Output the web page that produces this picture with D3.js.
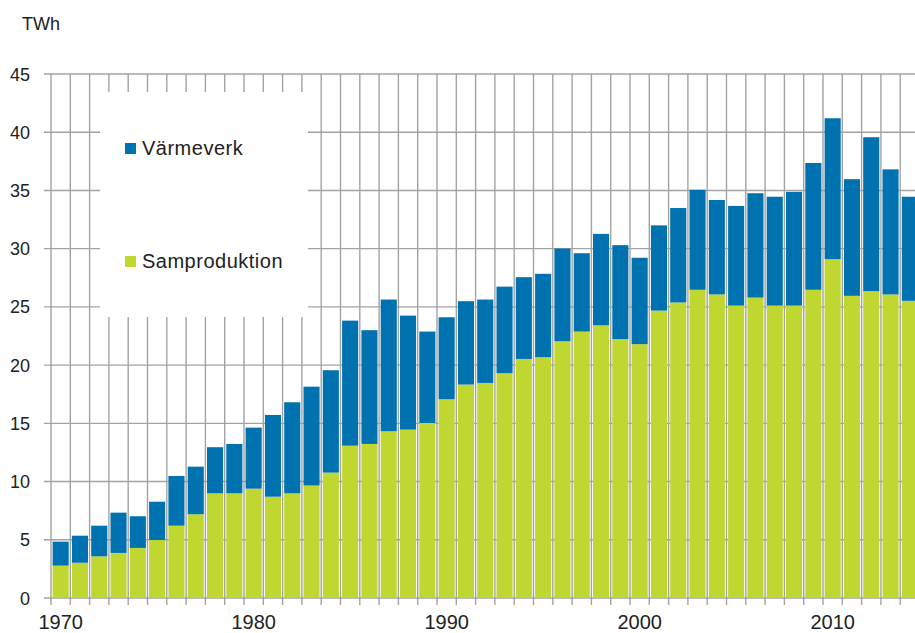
<!DOCTYPE html>
<html>
<head>
<meta charset="utf-8">
<script src="https://cdn.jsdelivr.net/npm/d3@7"></script>
<style>
  body { margin: 0; background: #fff; }
  svg { display: block; font-family: "Liberation Sans", Arial, sans-serif; }
</style>
</head>
<body>
<svg id="chart" width="915" height="633"></svg>
<script>
var years = d3.range(1970, 2015)

// TWh
var samproduktion = [2.78, 3.03, 3.58, 3.87, 4.30, 4.98, 6.21, 7.19, 8.99, 8.99,
    9.39, 8.70, 8.99, 9.66, 10.77, 13.08, 13.23, 14.32, 14.46, 15.03,
    17.07, 18.33, 18.47, 19.30, 20.53, 20.68, 22.05, 22.88, 23.42, 22.23,
    21.80, 24.68, 25.38, 26.47, 26.07, 25.11, 25.80, 25.11, 25.11, 26.47,
    29.10, 25.95, 26.35, 26.07, 25.52]

var varmeverk = [2.06, 2.32, 2.63, 3.46, 2.72, 3.29, 4.27, 4.09, 3.96, 4.24,
    5.24, 7.02, 7.82, 8.49, 8.79, 10.74, 9.77, 11.31, 9.79, 7.85,
    7.04, 7.16, 7.16, 7.44, 7.02, 7.16, 7.96, 6.73, 7.85, 8.07,
    7.42, 7.32, 8.11, 8.59, 8.11, 8.56, 8.96, 9.35, 9.77, 10.89,
    12.10, 10.02, 13.22, 10.74, 8.94]

var seriesNames = ["Samproduktion", "Värmeverk"]
var seriesColors = ["#c0d731", "#0072b0"]
var yTicks = [0, 5, 10, 15, 20, 25, 30, 35, 40, 45]
var labelledYears = [1970, 1980, 1990, 2000, 2010]

var plotLeft = 51, plotTop = 74, plotBottom = 598, step = 19.3
var gridColor = "#a3a3a3"

var svg = d3.select("#chart")

var x = d3.scaleBand()
    .domain(years)
    .range([plotLeft, plotLeft + years.length * step])
    .padding(0)

var y = d3.scaleLinear().domain([0, 45]).range([plotBottom, plotTop])

var rows = years.map(function (yr, i) {
    return { year: yr, Samproduktion: samproduktion[i], "Värmeverk": varmeverk[i] }
})
var stacked = d3.stack().keys(seriesNames)(rows)

// grid
var grid = svg.append("g")
grid.selectAll("line.h").data(yTicks).join("line")
    .attr("x1", plotLeft - 7).attr("x2", 915)
    .attr("y1", function (d) { return y(d) }).attr("y2", function (d) { return y(d) })
    .attr("stroke", gridColor).attr("stroke-width", 1.4)

var boundaries = years.map(function (yr) { return x(yr) }).concat([x.range()[1]])
grid.selectAll("line.v").data(boundaries).join("line")
    .attr("x1", function (d) { return d }).attr("x2", function (d) { return d })
    .attr("y1", plotTop).attr("y2", plotBottom + 7)
    .attr("stroke", gridColor).attr("stroke-width", 1.4)

// white legend box covers the grid
svg.append("rect")
    .attr("x", 100).attr("y", 92).attr("width", 208).attr("height", 225)
    .attr("fill", "#fff")

// bars
svg.append("g").selectAll("g").data(stacked).join("g")
    .attr("fill", function (d, i) { return seriesColors[i] })
    .selectAll("rect").data(function (d) { return d }).join("rect")
    .attr("x", function (d) { return x(d.data.year) + 1.6 })
    .attr("width", x.bandwidth() - 3.2)
    .attr("y", function (d) { return y(d[1]) })
    .attr("height", function (d) { return y(d[0]) - y(d[1]) })

// y labels
svg.append("g").selectAll("text").data(yTicks).join("text")
    .attr("x", 30).attr("y", function (d) { return y(d) + 6.5 })
    .attr("text-anchor", "end")
    .attr("font-size", 18).attr("fill", "#222")
    .text(function (d) { return d })

// x labels
svg.append("g").selectAll("text").data(labelledYears).join("text")
    .attr("x", function (d) { return x(d) + x.bandwidth() / 2 })
    .attr("y", 629)
    .attr("text-anchor", "middle")
    .attr("font-size", 20).attr("fill", "#222")
    .text(function (d) { return d })

svg.append("text").attr("x", 22).attr("y", 30)
    .attr("font-size", 18).attr("fill", "#222").text("TWh")

// legend, Värmeverk on top
var legendItems = [
    { name: "Värmeverk", color: seriesColors[1], y: 155 },
    { name: "Samproduktion", color: seriesColors[0], y: 268 }
]
var legend = svg.append("g").selectAll("g").data(legendItems).join("g")
legend.append("rect")
    .attr("x", 125).attr("y", function (d) { return d.y - 12 })
    .attr("width", 11).attr("height", 11)
    .attr("fill", function (d) { return d.color })
legend.append("text")
    .attr("x", 142).attr("y", function (d) { return d.y })
    .attr("font-size", 20).attr("letter-spacing", 0.5).attr("fill", "#222")
    .text(function (d) { return d.name })
</script>
</body>
</html>
